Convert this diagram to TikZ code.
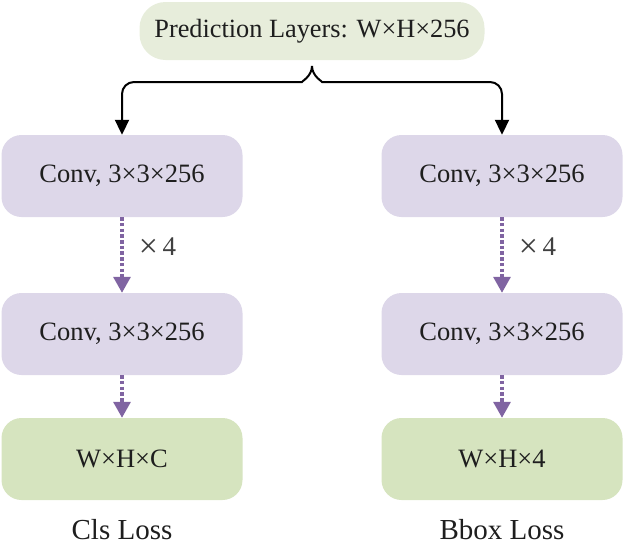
\documentclass[tikz,border=0pt]{standalone}
\usepackage{fontspec}
\setmainfont{Liberation Serif}
\usetikzlibrary{arrows.meta,positioning}

\definecolor{toppale}{RGB}{231,237,219}
\definecolor{convlav}{RGB}{221,215,233}
\definecolor{outgreen}{RGB}{214,228,191}
\definecolor{dotpurple}{RGB}{128,100,162}
\definecolor{inktext}{RGB}{30,30,30}

\newcommand{\bigtimes}{\raisebox{-2pt}{\fontsize{34}{34}\selectfont ×}\,}

\tikzset{
  convbox/.style={fill=convlav,rounded corners=20pt,minimum width=241pt,minimum height=82pt,text=inktext,font=\fontsize{26.5}{30}\selectfont},
  outbox/.style={convbox,fill=outgreen},
  topbox/.style={fill=toppale,rounded corners=26pt,minimum width=345pt,minimum height=58pt,text=inktext,font=\fontsize{26.3}{30}\selectfont},
  dotarrow/.style={dotpurple,line width=3.2pt,dash pattern=on 3.5pt off 2.2pt,-{Triangle[length=16pt,width=17pt]}},
  splitarrow/.style={black,line width=2pt,rounded corners=12pt,-{Triangle[length=15pt,width=14pt]}},
  losslabel/.style={text=inktext,font=\fontsize{29}{32}\selectfont},
  replabel/.style={text=inktext!85,font=\fontsize{27}{30}\selectfont}
}

\begin{document}
\begin{tikzpicture}[x=1pt,y=-1pt]
\useasboundingbox (0,0) rectangle (625,552);

\node[topbox] (pred) at (312,31) {Prediction Layers: W×H×256};

% left branch
\node[convbox] (clsA) at (122,176) {Conv, 3×3×256};
\node[convbox] (clsB) at (122,334) {Conv, 3×3×256};
\node[outbox] (clsOut) at (122,459) {W×H×C};
\node[losslabel] (clsLoss) at (122,530) {Cls Loss};

% right branch
\node[convbox] (boxA) at (502,176) {Conv, 3×3×256};
\node[convbox] (boxB) at (502,334) {Conv, 3×3×256};
\node[outbox] (boxOut) at (502,459) {W×H×4};
\node[losslabel] (boxLoss) at (502,530) {Bbox Loss};

% brace split
\coordinate (tip) at (312,66);
\draw[splitarrow] (tip) to[out=-90,in=0] ++(-22,16) -| (clsA.north);
\draw[splitarrow] (tip) to[out=-90,in=180] ++(22,16) -| (boxA.north);

% repeated convs
\draw[dotarrow] (clsA) -- node[replabel,right=12pt,yshift=7pt]{\bigtimes4} (clsB);
\draw[dotarrow] (boxA) -- node[replabel,right=12pt,yshift=7pt]{\bigtimes4} (boxB);
\draw[dotarrow] (clsB) -- (clsOut);
\draw[dotarrow] (boxB) -- (boxOut);
\end{tikzpicture}
\end{document}
